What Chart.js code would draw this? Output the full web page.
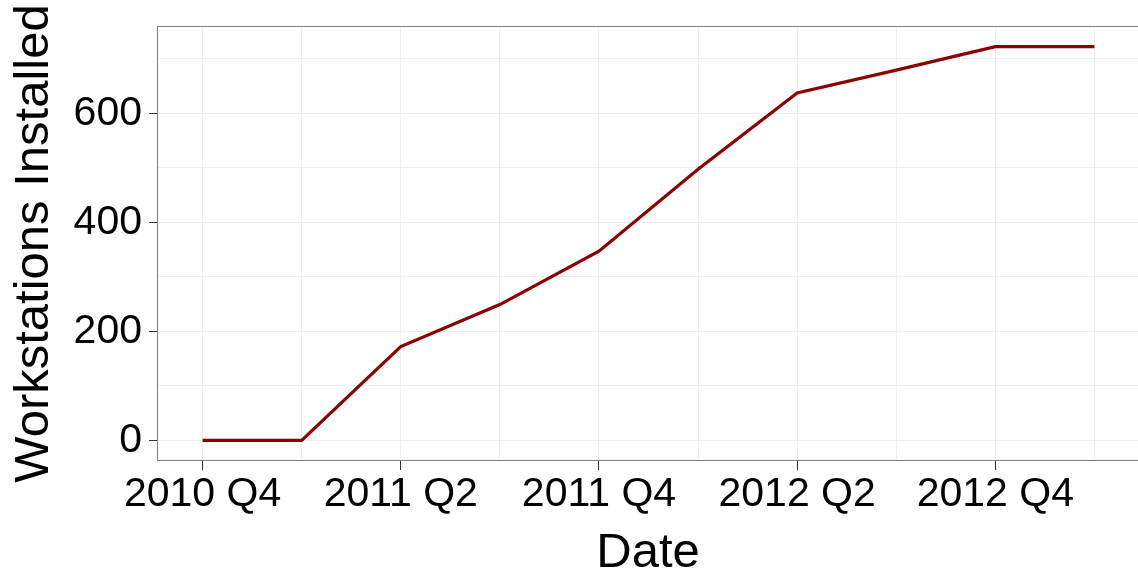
<!DOCTYPE html>
<html>
<head>
<meta charset="utf-8">
<script src="https://cdn.jsdelivr.net/npm/chart.js@4"></script>
<style>
  html, body { margin: 0; padding: 0; background: #fff; }
  #wrap { width: 1138px; height: 573px; }
</style>
</head>
<body>
<div id="wrap"><canvas id="chart"></canvas></div>
<script>
var quarters = ['2010 Q4', '2011 Q1', '2011 Q2', '2011 Q3', '2011 Q4',
                '2012 Q1', '2012 Q2', '2012 Q3', '2012 Q4', '2013 Q1'];
var installed = [0, 0, 172, 249, 347, 497, 637, 679, 722, 722];
var yGrid = [0, 100, 200, 300, 400, 500, 600, 700];
var yLabels = [0, 200, 400, 600];

var FONT = '"Liberation Sans", Arial, sans-serif';

var panelBorder = {
    id: 'panelBorder',
    afterDraw: function (chart) {
        var a = chart.chartArea, c = chart.ctx;
        c.save();
        c.strokeStyle = '#7f7f7f';
        c.lineWidth = 1;
        c.strokeRect(a.left - 0.5, a.top - 0.5, a.right - a.left + 2, a.bottom - a.top + 1);
        c.restore();
    }
};

function renderChart(name) {
    var ctx = document.getElementById(name).getContext('2d');
    var myChart = new Chart(ctx, {
        type: 'line',
        data: {
            datasets: [{
                label: 'Workstations Installed',
                data: installed.map(function (v, i) { return { x: i, y: v }; }),
                borderColor: '#8b0000',
                borderWidth: 3.2,
                pointRadius: 0,
                tension: 0
            }]
        },
        options: {
            responsive: true,
            maintainAspectRatio: false,
            animation: false,
            layout: { padding: { top: 27, right: 0, left: 0, bottom: 0 } },
            plugins: { legend: { display: false }, tooltip: { enabled: false } },
            scales: {
                x: {
                    type: 'linear',
                    min: -0.45,
                    max: 9.44,
                    afterFit: function (s) {
                        s.height = 113;
                        s.paddingLeft = 0;
                        s.paddingRight = 0;
                    },
                    ticks: {
                        stepSize: 1,
                        includeBounds: false,
                        autoSkip: false,
                        maxRotation: 0,
                        padding: 0,
                        color: '#000',
                        font: { family: FONT, size: 41 },
                        callback: function (v) { return v % 2 === 0 ? quarters[v] : ''; }
                    },
                    grid: {
                        color: '#eeeeee',
                        tickLength: 10,
                        tickColor: function (c) {
                            return c.tick && c.tick.value % 2 === 0 ? '#333333' : 'rgba(0,0,0,0)';
                        }
                    },
                    border: { display: false },
                    title: {
                        display: true,
                        text: 'Date',
                        color: '#000',
                        font: { family: FONT, size: 49, lineHeight: 1 },
                        padding: { top: 0, bottom: -5 }
                    }
                },
                y: {
                    min: -36.1,
                    max: 758.1,
                    afterFit: function (s) {
                        s.width = 158;
                        s.paddingTop = 0;
                        s.paddingBottom = 0;
                    },
                    afterBuildTicks: function (s) {
                        s.ticks = yGrid.map(function (v) { return { value: v }; });
                    },
                    ticks: {
                        autoSkip: false,
                        padding: 7,
                        color: '#000',
                        font: { family: FONT, size: 41 },
                        callback: function (v) { return yLabels.indexOf(v) >= 0 ? String(v) : ''; }
                    },
                    grid: {
                        color: '#eeeeee',
                        tickLength: 9,
                        tickColor: function (c) {
                            return c.tick && yLabels.indexOf(c.tick.value) >= 0 ? '#333333' : 'rgba(0,0,0,0)';
                        }
                    },
                    border: { display: false },
                    title: {
                        display: true,
                        text: 'Workstations Installed',
                        color: '#000',
                        font: { family: FONT, size: 49, lineHeight: 1 },
                        padding: { top: 10, bottom: 0 }
                    }
                }
            }
        },
        plugins: [panelBorder]
    });
}

renderChart('chart');
</script>
</body>
</html>
